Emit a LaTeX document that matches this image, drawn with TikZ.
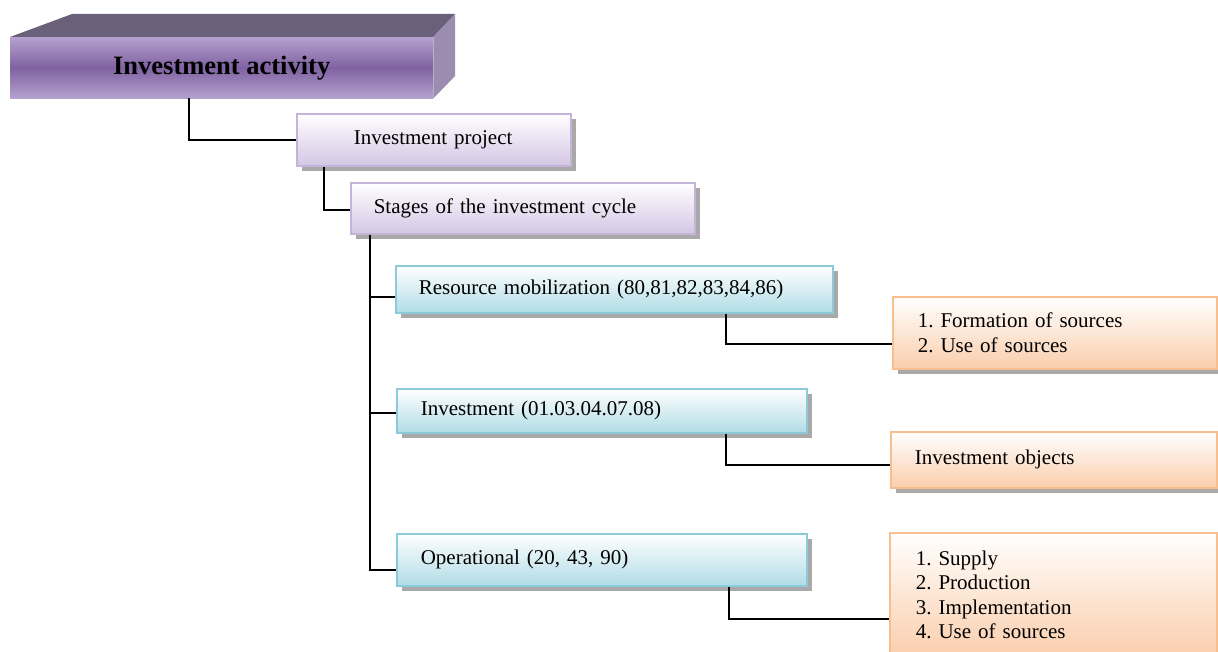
\documentclass[tikz,border=0pt]{standalone}
\usepackage{fontspec}
\setmainfont{Liberation Serif}
\usetikzlibrary{shadows,positioning}
\definecolor{pborder}{RGB}{196,180,218}
\definecolor{pfill}{RGB}{212,198,228}
\definecolor{bborder}{RGB}{140,202,218}
\definecolor{bfill}{RGB}{176,220,230}
\definecolor{oborder}{RGB}{248,190,142}
\definecolor{ofill}{RGB}{250,206,172}
\definecolor{topface}{RGB}{107,96,122}
\definecolor{sideface}{RGB}{156,140,176}
\definecolor{frontlight}{RGB}{180,162,206}
\definecolor{frontdark}{RGB}{128,98,162}
\definecolor{shadowgray}{RGB}{140,140,140}
\tikzset{
  boxbase/.style={anchor=north west, inner ysep=0pt, align=left, line width=1.6pt,
     font=\frenchspacing\fontsize{21}{24.5}\selectfont,
     drop shadow={shadow xshift=5pt, shadow yshift=-5pt, fill=shadowgray, opacity=0.75}},
  pbox/.style={boxbase, draw=pborder, top color=white, bottom color=pfill},
  bbox/.style={boxbase, draw=bborder, top color=white, bottom color=bfill},
  obox/.style={boxbase, draw=oborder, top color=white, bottom color=ofill},
  conn/.style={draw=black, line width=1.6pt},
}
\begin{document}
\frenchspacing
\begin{tikzpicture}[x=1pt,y=-1pt]
\useasboundingbox (0,0) rectangle (1218,652);
% top 3D box
\node[anchor=north west, minimum width=423pt, minimum height=61pt, inner sep=0pt,
      top color=frontlight, bottom color=frontlight, middle color=frontdark,
      font=\bfseries\fontsize{26.5}{30}\selectfont] (top) at (10,37) {Investment activity};
\fill[topface] (top.north west) -- ++(62,-23) -- (455,14) -- (top.north east) -- cycle;
\fill[sideface] (top.north east) -- (455,14) -- (455,76) -- (top.south east) -- cycle;

\node[pbox, minimum width=274pt, minimum height=52pt, inner xsep=57pt, text width=160pt] (proj) at (296,113) {Investment project};
\node[pbox, minimum width=344pt, minimum height=51pt, inner xsep=23pt, text width=298pt] (stages) at (350,182) {Stages of the investment cycle};

\node[bbox, minimum width=437pt, minimum height=47pt, inner xsep=23pt, text width=391pt] (res) at (395,265) {Resource mobilization (80,81,82,83,84,86)};
\node[bbox, minimum width=410pt, minimum height=44pt, inner xsep=24pt, text width=362pt] (inv) at (396,388) {Investment (01.03.04.07.08)};
\node[bbox, minimum width=410pt, minimum height=52pt, inner xsep=24pt, text width=362pt] (oper) at (396,533) {Operational (20, 43, 90)\\[4pt]};

\node[obox, minimum width=324pt, minimum height=72pt, inner xsep=25pt, text width=274pt] (o1) at (892,296) {1. Formation of sources\\2. Use of sources};
\node[obox, minimum width=326pt, minimum height=56pt, inner xsep=24pt, text width=278pt] (o2) at (890,431) {Investment objects};
\node[obox, minimum width=327pt, minimum height=124pt, inner xsep=26pt, text width=275pt] (o3) at (889,532) {1. Supply\\2. Production\\3. Implementation\\4. Use of sources};

% connectors
\draw[conn] ([xshift=-32.5pt]top.south) |- (proj.west);
\draw[conn] ([xshift=-110pt]proj.south) |- ([yshift=-1.5pt]stages.west);
\draw[conn] ([xshift=-153pt]stages.south) |- ([yshift=-10pt]oper.west);
\draw[conn] ([xshift=-153pt]stages.south) |- ([yshift=-7.5pt]res.west);
\draw[conn] ([xshift=-153pt]stages.south) |- ([yshift=-2pt]inv.west);
\draw[conn] ([xshift=111.5pt]res.south) |- ([yshift=-11pt]o1.west);
\draw[conn] ([xshift=124pt]inv.south) |- ([yshift=-5pt]o2.west);
\draw[conn] ([xshift=127pt]oper.south) |- ([yshift=-24pt]o3.west);
\end{tikzpicture}
\end{document}
